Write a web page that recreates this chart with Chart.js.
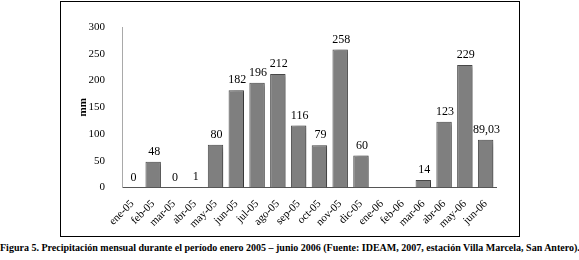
<!DOCTYPE html>
<html>
<head>
<meta charset="utf-8">
<script src="https://cdn.jsdelivr.net/npm/chart.js@4"></script>
<style>
  body { margin: 0; background: #fff; width: 579px; height: 260px; position: relative; font-family: "Liberation Serif", serif; }
  #caja { position: absolute; left: 60px; top: 1px; width: 458px; height: 234px; border: 1px solid #000; }
  #caja canvas { display: block; }
  #pie { position: absolute; left: 0; top: 242px; width: 579px; text-align: center; font-size: 10px; font-weight: bold; white-space: nowrap; }
</style>
</head>
<body>
<div id="caja"><canvas id="grafico" width="458" height="234"></canvas></div>
<div id="pie">Figura 5. Precipitación mensual durante el período enero 2005 – junio 2006 (Fuente: IDEAM, 2007, estación Villa Marcela, San Antero).</div>
<script>
// Datos
const meses = ["ene-05", "feb-05", "mar-05", "abr-05", "may-05", "jun-05", "jul-05", "ago-05", "sep-05",
  "oct-05", "nov-05", "dic-05", "ene-06", "feb-06", "mar-06", "abr-06", "may-06", "jun-06"];
const precipitacion = [0, 48, 0, 1, 80, 182, 196, 212, 116, 79, 258, 60, null, null, 14, 123, 229, 89.03];
const ticksY = [0, 50, 100, 150, 200, 250, 300];

const fuente = "'Liberation Serif', 'Times New Roman', serif";

// Sombra a la derecha de las barras
const sombraBarras = {
  id: "sombraBarras",
  beforeDatasetsDraw(chart) {
    const ctx = chart.ctx;
    ctx.save();
    ctx.shadowColor = "rgba(0,0,0,0.3)";
    ctx.shadowOffsetX = 4;
    ctx.shadowOffsetY = 1;
    ctx.shadowBlur = 3;
  },
  afterDatasetsDraw(chart) {
    chart.ctx.restore();
  }
};

// Etiquetas de valor encima de cada barra
const etiquetas = {
  id: "etiquetas",
  afterDatasetsDraw(chart) {
    const ctx = chart.ctx;
    const meta = chart.getDatasetMeta(0);
    ctx.save();
    ctx.font = "12px " + fuente;
    ctx.fillStyle = "#000";
    ctx.textAlign = "center";
    ctx.textBaseline = "bottom";
    meta.data.forEach((barra, i) => {
      const v = precipitacion[i];
      if (v === null) return;
      const texto = String(v).replace(".", ",");
      ctx.fillText(texto, barra.x + 1, barra.y - 4);
    });
    ctx.restore();
  }
};

new Chart(document.getElementById("grafico"), {
  type: "bar",
  data: {
    labels: meses,
    datasets: [{
      data: precipitacion,
      backgroundColor: "#7f7f7f",
      borderColor: "#4a4a4a",
      borderWidth: 1,
      borderSkipped: "start",
      barPercentage: 0.78,
      categoryPercentage: 0.95
    }]
  },
  options: {
    responsive: false,
    animation: false,
    layout: { padding: { left: 16, top: 25, right: 23, bottom: 0 } },
    plugins: {
      legend: { display: false },
      tooltip: { enabled: false }
    },
    scales: {
      x: {
        grid: { display: false },
        border: { display: true, color: "#555" },
        ticks: {
          color: "#000",
          font: { family: fuente, size: 11 },
          autoSkip: false,
          minRotation: 45,
          maxRotation: 45,
          padding: 2
        },
        afterFit(scale) { scale.height = 48.5; }
      },
      y: {
        min: 0,
        max: 300,
        afterBuildTicks(scale) { scale.ticks = ticksY.map(v => ({ value: v })); },
        grid: { display: false },
        border: { display: true, color: "#a9a9a9" },
        ticks: {
          color: "#000",
          font: { family: fuente, size: 11 },
          padding: 9
        },
        title: {
          display: true,
          text: "mm",
          color: "#000",
          font: { family: fuente, size: 11, weight: "bold" },
          padding: 0
        },
        afterFit(scale) { scale.width = 45; }
      }
    }
  },
  plugins: [sombraBarras, etiquetas]
});
</script>
</body>
</html>
